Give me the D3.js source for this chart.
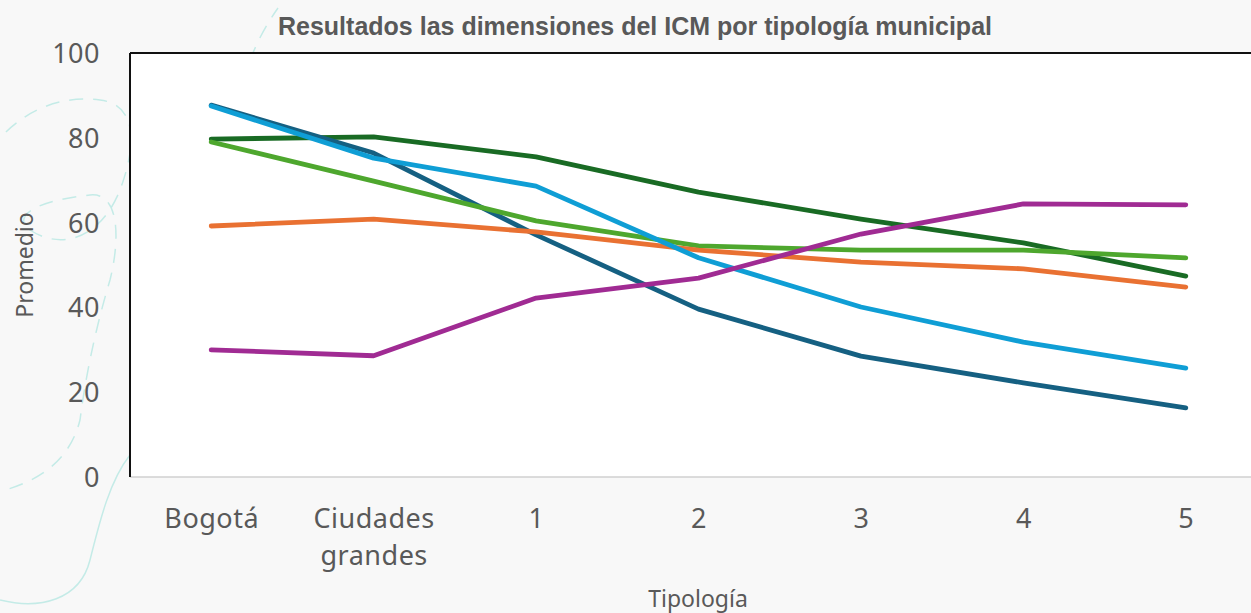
<!DOCTYPE html>
<html>
<head>
<meta charset="utf-8">
<script src="https://cdn.jsdelivr.net/npm/d3@7"></script>
<style>
html,body{margin:0;padding:0;background:#f8f8f8;}
svg{display:block;}
</style>
</head>
<body>
<svg id="chart" width="1251" height="613"></svg>
<script>
const categories = ["Bogotá", "Ciudades grandes", "1", "2", "3", "4", "5"];
const yTicks = [0, 20, 40, 60, 80, 100];
const seriesNames = ["Serie A", "Serie B", "Serie C", "Serie D", "Serie E", "Serie F"];
const seriesColors = ["#156082", "#0f9ed5", "#196b24", "#4ea72e", "#e97132", "#a02b93"];
const darkBlue   = [87.7, 76.4, 57.1, 39.6, 28.5, 22.2, 16.3];
const lightBlue  = [87.5, 75.2, 68.6, 51.7, 40.1, 31.8, 25.7];
const darkGreen  = [79.7, 80.2, 75.5, 67.2, 60.8, 55.2, 47.4];
const lightGreen = [79.0, 69.8, 60.4, 54.5, 53.5, 53.5, 51.7];
const orange     = [59.2, 60.8, 57.8, 53.5, 50.7, 49.1, 44.8];
const purple     = [30.0, 28.6, 42.2, 46.9, 57.3, 64.4, 64.2];
const seriesValues = [darkBlue, lightBlue, darkGreen, lightGreen, orange, purple];
const drawOrder = [2, 0, 3, 4, 1, 5];

(function () {
const svg = d3.select("#chart");
const W = 1251, H = 613;
const pLeft = 130, pTop = 53, pBottom = 477, pRightEnd = 1267;
const labelFont = "'Noto Sans', 'Open Sans', sans-serif";

// decorative background curves
const deco = svg.append("g").attr("fill", "none").attr("stroke", "#c4ebe7").attr("stroke-width", 1.5);
deco.append("path").attr("d", "M-10,150 C20,110 60,95 100,100 C140,105 135,150 120,190 C100,240 60,250 30,230 C10,215 40,200 90,195 C120,192 120,240 110,280 C95,330 85,380 80,420 C70,460 40,480 5,490")
  .attr("stroke-dasharray", "14,10");
deco.append("path").attr("d", "M130,455 C110,480 100,520 90,560 C80,600 40,610 0,600");
deco.append("path").attr("d", "M250,60 C258,40 266,25 278,8").attr("stroke-dasharray", "14,10");

// plot area
svg.append("rect").attr("x", pLeft).attr("y", pTop).attr("width", W - pLeft).attr("height", pBottom - pTop).attr("fill", "#ffffff");

const x = d3.scalePoint().domain(categories).range([pLeft, pRightEnd]).padding(0.5);
const y = d3.scaleLinear().domain([0, 100]).range([pBottom, pTop]);

// axes lines
svg.append("line").attr("x1", pLeft).attr("x2", W).attr("y1", pBottom).attr("y2", pBottom).attr("stroke", "#d0d0d0").attr("stroke-width", 1.5);
svg.append("line").attr("x1", pLeft).attr("x2", W).attr("y1", pTop).attr("y2", pTop).attr("stroke", "#111").attr("stroke-width", 2);
svg.append("line").attr("x1", pLeft).attr("x2", pLeft).attr("y1", pTop).attr("y2", pBottom).attr("stroke", "#111").attr("stroke-width", 2);

// y axis ticks
const yAxis = d3.axisLeft(y).tickValues(yTicks).tickSize(0).tickPadding(0);
const yg = svg.append("g").attr("transform", "translate(100,0)").call(yAxis);
yg.select(".domain").remove();
yg.selectAll("text").attr("font-family", labelFont).attr("font-size", 27).attr("letter-spacing", 0.5)
  .attr("fill", "#595959").attr("dy", "0.35em");

// x axis ticks
const xAxis = d3.axisBottom(x).tickSize(0).tickFormat("");
const xg = svg.append("g").attr("transform", `translate(0,${pBottom})`).call(xAxis);
xg.select(".domain").remove();
xg.selectAll(".tick").each(function(d) {
  const words = d === "Ciudades grandes" ? ["Ciudades", "grandes"] : [d];
  const t = d3.select(this).append("text")
    .attr("font-family", labelFont).attr("font-size", 27).attr("letter-spacing", 0.5)
    .attr("fill", "#595959").attr("text-anchor", "middle");
  words.forEach((w, i) => t.append("tspan").attr("x", 0).attr("y", 51 + i * 37).text(w));
});

// lines
const line = d3.line().x((d, i) => x(categories[i])).y(d => y(d));
drawOrder.forEach(k => {
  svg.append("path").datum(seriesValues[k])
    .attr("d", line).attr("fill", "none")
    .attr("stroke", seriesColors[k]).attr("stroke-width", 4.8)
    .attr("stroke-linecap", "round").attr("stroke-linejoin", "round")
    .attr("data-name", seriesNames[k]);
});

// title
svg.append("text").attr("x", 635).attr("y", 35).attr("text-anchor", "middle")
  .attr("font-family", "'Liberation Sans', Arial, sans-serif").attr("font-weight", "bold")
  .attr("font-size", 25).attr("fill", "#595959")
  .text("Resultados las dimensiones del ICM por tipología municipal");

// axis titles
svg.append("text").attr("transform", "translate(33,265) rotate(-90)").attr("text-anchor", "middle")
  .attr("font-family", labelFont).attr("font-size", 23).attr("fill", "#595959")
  .text("Promedio");
svg.append("text").attr("x", 698).attr("y", 607).attr("text-anchor", "middle")
  .attr("font-family", labelFont).attr("font-size", 23).attr("fill", "#595959")
  .text("Tipología");
})();
</script>
</body>
</html>
